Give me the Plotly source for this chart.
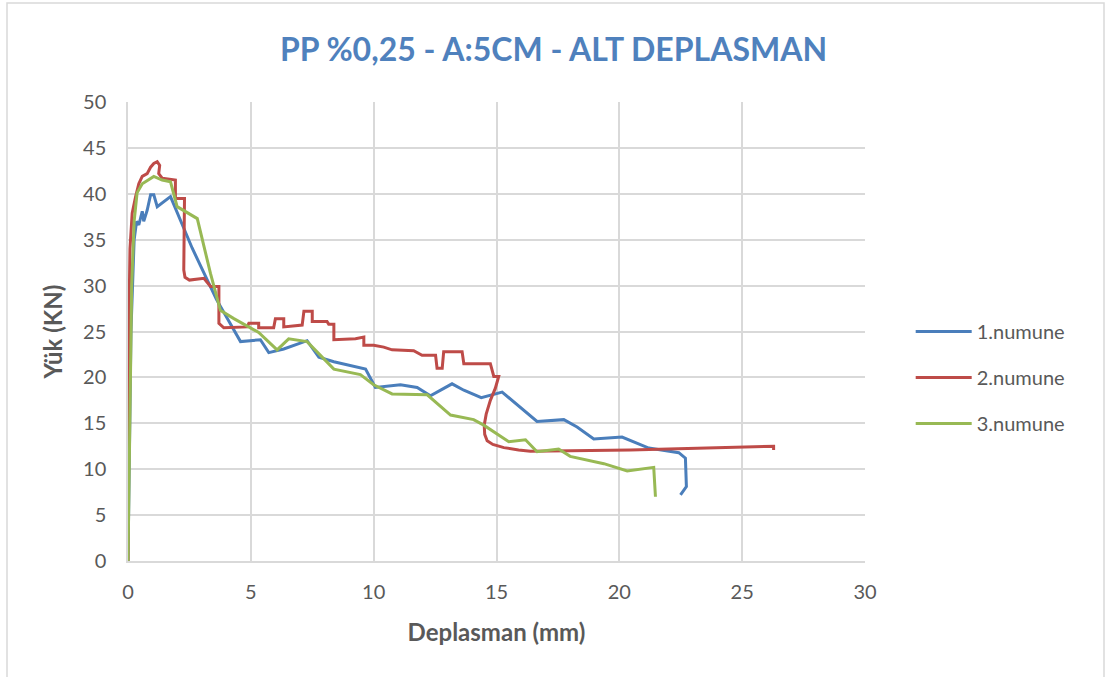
import plotly.graph_objects as go

# 1.numune
x1 = [0, 0.05, 0.12, 0.25, 0.35, 0.44, 0.58, 0.64, 0.78, 0.92, 1.05, 1.19, 1.73, 2.61, 3.6, 4.58,
      5.39, 5.73, 6.34, 7.29, 7.77, 8.38, 9.67, 10.07, 11.09, 11.77, 12.31, 13.19, 13.67, 14.38,
      15.23, 16.65, 17.74, 18.28, 18.96, 20.11, 21.2, 22.42, 22.69, 22.73, 22.49]
y1 = [0, 10, 25, 35, 37, 36.6, 38.1, 37.0, 38.2, 39.9, 39.9, 38.6, 39.7, 34.1, 28.5, 23.9,
      24.1, 22.7, 23.1, 24.0, 22.2, 21.7, 20.9, 18.9, 19.2, 18.9, 18.0, 19.3, 18.6, 17.8,
      18.4, 15.2, 15.4, 14.6, 13.3, 13.5, 12.3, 11.8, 11.2, 8.1, 7.2]

# 2.numune
x2 = [0, 0.03, 0.08, 0.17, 0.31, 0.44, 0.58, 0.78, 0.92, 1.05, 1.19, 1.29, 1.25, 1.39, 1.93, 1.93,
      2.3, 2.27, 2.32, 2.5, 3.09, 3.36, 3.7, 3.7, 3.9, 4.85, 4.92, 5.32, 5.32, 5.93, 6.0, 6.34,
      6.34, 7.09, 7.16, 7.5, 7.5, 8.1, 8.17, 8.38, 8.38, 9.26, 9.6, 9.6, 10.0, 10.41, 10.75,
      11.63, 11.97, 12.52, 12.58, 12.79, 12.85, 13.6, 13.67, 14.75, 14.89, 15.09, 14.95, 14.75,
      14.58, 14.5, 14.52, 14.62, 14.85, 15.3, 15.9, 16.38, 20.45, 23.17, 26.28, 26.28]
y2 = [0, 25, 34, 37.9, 39.7, 41.1, 41.9, 42.2, 42.9, 43.3, 43.5, 43.1, 42.2, 41.7, 41.5, 39.5,
      39.5, 31.7, 30.9, 30.6, 30.8, 29.9, 29.9, 25.9, 25.4, 25.5, 25.9, 25.9, 25.4, 25.4, 26.4, 26.4,
      25.5, 25.7, 27.2, 27.2, 26.1, 26.1, 25.8, 25.8, 24.1, 24.2, 24.4, 23.5, 23.5, 23.3, 23.0,
      22.9, 22.4, 22.4, 21.0, 21.0, 22.8, 22.8, 21.5, 21.5, 20.1, 20.1, 18.8, 17.5,
      16.0, 14.8, 13.8, 13.1, 12.7, 12.35, 12.1, 11.95, 12.1, 12.3, 12.5, 12.1]

# 3.numune
x3 = [0, 0.06, 0.15, 0.25, 0.37, 0.58, 1.05, 1.39, 1.73, 2.0, 2.82, 3.36, 3.76, 4.31, 5.32, 6.07,
      6.54, 7.29, 8.38, 9.46, 10.0, 10.75, 12.18, 13.13, 14.07, 14.48, 15.5, 16.18, 16.65,
      17.53, 18.0, 19.37, 20.32, 21.4, 21.47]
y3 = [0, 15, 30, 37, 40.1, 41.1, 41.9, 41.5, 41.3, 38.6, 37.3, 31.3, 27.3, 26.4, 24.9, 23.0,
      24.2, 23.9, 20.9, 20.3, 19.2, 18.2, 18.1, 15.9, 15.4, 14.8, 13.0, 13.2, 11.9,
      12.2, 11.4, 10.6, 9.8, 10.2, 7.0]

names = ["1.numune", "2.numune", "3.numune"]
colors = ["#4A7EBB", "#BE4B48", "#98B954"]

x_ticks = [0, 5, 10, 15, 20, 25, 30]
y_ticks = [0, 5, 10, 15, 20, 25, 30, 35, 40, 45, 50]

fig = go.Figure()
for i, (xs, ys) in enumerate([(x1, y1), (x2, y2), (x3, y3)]):
    fig.add_trace(go.Scatter(x=xs, y=ys, mode="lines", name=names[i],
                             legendgroup=names[i],
                             line=dict(color=colors[i], width=3)))

font_family = "Lato, 'Open Sans', sans-serif"
fig.update_layout(
    width=1107, height=677,
    margin=dict(l=128, r=242, t=102, b=116),
    paper_bgcolor="white", plot_bgcolor="white",
    font=dict(family=font_family, color="#595959", size=20),
    title=dict(text="<b>PP %0,25 - A:5CM - ALT DEPLASMAN</b>", x=0.5, xanchor="center",
               y=0.927, yanchor="middle",
               font=dict(size=32, color="#4F81BD", family=font_family)),
    legend=dict(x=1.062, y=0.40, xanchor="left", yanchor="middle",
                font=dict(size=20, color="#595959"), tracegroupgap=17,
                traceorder="grouped", itemwidth=56),
    showlegend=True,
)
fig.update_xaxes(range=[0, 30], tickvals=x_ticks, showgrid=True, gridcolor="#D9D9D9",
                 gridwidth=1.5, showline=True, linecolor="#D9D9D9", linewidth=1.5,
                 zeroline=False, ticks="", ticklen=0, ticklabelstandoff=12,
                 title=dict(text="<b>Deplasman (mm)</b>", font=dict(size=24, color="#595959"),
                            standoff=22),
                 tickfont=dict(size=20, color="#595959"))
fig.update_yaxes(range=[0, 50], tickvals=y_ticks, showgrid=True, gridcolor="#D9D9D9",
                 gridwidth=1.5, showline=True, linecolor="#D9D9D9", linewidth=1.5,
                 zeroline=False, ticks="", ticklabelstandoff=16,
                 title=dict(text="<b>Yük (KN)</b>", font=dict(size=24, color="#595959"),
                            standoff=14),
                 tickfont=dict(size=20, color="#595959"))

fig.add_shape(type="rect", xref="paper", yref="paper",
              x0=(7 - 128) / 737, x1=(1104 - 128) / 737,
              y0=(561 - 700) / 459, y1=(561 - 3) / 459,
              line=dict(color="#D9D9D9", width=1.5), fillcolor="rgba(0,0,0,0)", layer="below")

fig.write_html("out.html")
